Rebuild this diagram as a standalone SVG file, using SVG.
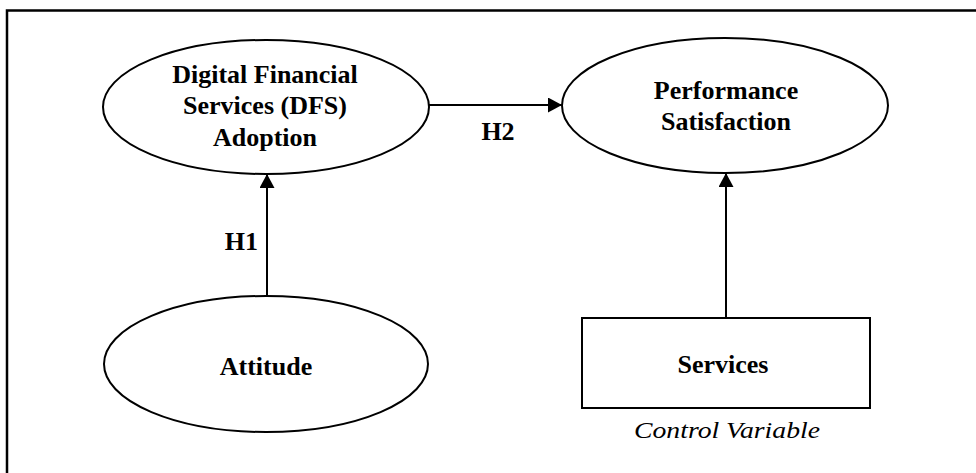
<svg xmlns="http://www.w3.org/2000/svg" width="976" height="473" viewBox="0 0 976 473">
<style>
.bg{fill:#fff}
.frame{fill:none;stroke:#000;stroke-width:2.5}
.node{fill:#fff;stroke:#000;stroke-width:2}
.lbl{font-family:"Liberation Serif","Times New Roman",serif;font-weight:bold;font-size:26px;fill:#000;text-anchor:middle}
.edge{stroke:#000;stroke-width:2;fill:none}
.note{font-family:"Liberation Serif","Times New Roman",serif;font-style:italic;font-size:24px;fill:#000;text-anchor:middle}
</style>
<defs>
<marker id="ah" viewBox="0 0 14 15" refX="14" refY="7.5" markerWidth="14" markerHeight="15" markerUnits="userSpaceOnUse" orient="auto">
<path d="M0,0 L14,7.5 L0,15 Z" fill="#000"/>
</marker>
</defs>
<rect class="bg" x="0" y="0" width="976" height="473"/>
<rect class="frame" x="7" y="10.5" width="980" height="480"/>
<g id="connectors">
<line class="edge" x1="267" y1="296" x2="267" y2="174" marker-end="url(#ah)"/>
<line class="edge" x1="429" y1="105" x2="562" y2="105" marker-end="url(#ah)"/>
<line class="edge" x1="726" y1="318" x2="726" y2="173" marker-end="url(#ah)"/>
<text class="lbl" x="498" y="140">H2</text>
<text class="lbl" x="258" y="250" style="text-anchor:end">H1</text>
</g>
<g id="dfs">
<ellipse class="node" cx="266" cy="107" rx="163" ry="67"/>
<text class="lbl" x="265" y="83">Digital Financial</text>
<text class="lbl" x="265" y="114">Services (DFS)</text>
<text class="lbl" x="265" y="146">Adoption</text>
</g>
<g id="performance">
<ellipse class="node" cx="725" cy="105.5" rx="163" ry="67.5"/>
<text class="lbl" x="726" y="99">Performance</text>
<text class="lbl" x="726" y="130">Satisfaction</text>
</g>
<g id="attitude">
<ellipse class="node" cx="266" cy="364" rx="162" ry="68"/>
<text class="lbl" x="266" y="375">Attitude</text>
</g>
<g id="services">
<rect class="node" x="582" y="318" width="288" height="90"/>
<text class="lbl" x="723" y="373">Services</text>
<text class="note" x="727" y="438" textLength="186" lengthAdjust="spacingAndGlyphs">Control Variable</text>
</g>
</svg>
